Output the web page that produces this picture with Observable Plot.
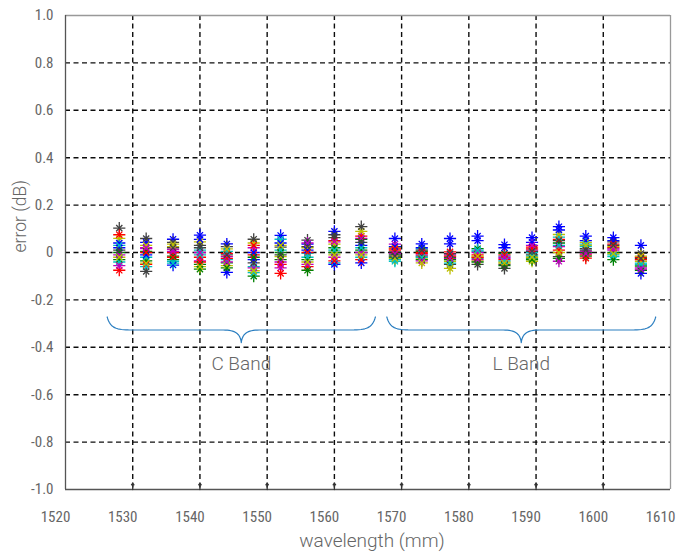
<!DOCTYPE html>
<html>
<head>
<meta charset="utf-8">
<script src="https://cdn.jsdelivr.net/npm/d3@7"></script>
<script src="https://cdn.jsdelivr.net/npm/@observablehq/plot@0.6"></script>
<style>
  html, body { margin: 0; padding: 0; background: #fff; }
</style>
</head>
<body>
<div id="chart"></div>
<script>
// ---- data ----
const wavelengths = [1528, 1532, 1536, 1540, 1544, 1548, 1552, 1556, 1560, 1564,
                     1569, 1573, 1577.2, 1581.3, 1585.3, 1589.4, 1593.4, 1597.4, 1601.5, 1605.6];
const seriesColors = ["#0000ff", "#008000", "#ff0000", "#00bfbf", "#bf00bf", "#bfbf00", "#404040"];

const sB1 = [0.02, 0.043, 0.056, 0.073, 0.036, -0.03, 0.072, 0.035, 0.089, 0.03, 0.059, 0.036, 0.059, 0.069, 0.033, 0.063, 0.109, 0.069, 0.063, 0.03];
const sG1 = [-0.03, -0.035, -0.03, -0.07, -0.044, -0.1, -0.03, -0.03, 0.0, 0.01, -0.01, 0.005, -0.02, 0.016, -0.004, -0.024, 0.04, 0.0, 0.0, -0.057];
const sR1 = [-0.075, -0.05, 0.0, -0.02, -0.004, -0.01, -0.05, -0.06, 0.05, 0.069, 0.01, -0.005, 0.003, -0.01, -0.03, 0.023, 0.055, -0.01, 0.02, -0.02];
const sC1 = [-0.04, -0.02, -0.037, 0.01, -0.03, -0.06, 0.056, -0.004, -0.044, -0.02, -0.03, 0.015, -0.005, 0.005, -0.015, 0.0, 0.065, 0.025, -0.017, -0.045];
const sM1 = [-0.055, 0.016, 0.013, -0.035, -0.017, 0.02, -0.065, -0.05, -0.02, 0.0, 0.035, -0.01, -0.01, 0.0, -0.025, 0.01, 0.025, 0.005, 0.01, -0.065];
const sY1 = [0.06, 0.03, 0.025, 0.045, -0.055, 0.04, -0.017, 0.02, 0.035, 0.089, 0.02, -0.024, -0.037, -0.035, -0.04, -0.037, 0.076, 0.043, 0.025, -0.037];
const sK1 = [0.103, 0.059, 0.043, 0.03, 0.025, 0.056, 0.023, 0.052, 0.063, 0.109, 0.003, -0.015, -0.05, -0.024, -0.05, -0.01, -0.017, 0.016, 0.045, -0.004];
const sB2 = [0.04, -0.01, -0.053, 0.055, -0.084, 0.0, 0.04, 0.01, -0.05, -0.044, 0.025, 0.02, 0.036, 0.05, 0.02, 0.043, 0.095, 0.05, 0.05, -0.088];
const sG2 = [0.0, 0.005, -0.015, -0.05, -0.065, -0.02, 0.0, -0.075, 0.02, 0.055, -0.02, -0.03, -0.03, -0.04, -0.055, -0.03, -0.025, -0.015, -0.03, -0.075];
const sR2 = [0.075, 0.0, -0.02, -0.04, -0.025, 0.03, -0.088, 0.0, -0.035, -0.03, 0.015, 0.0, -0.015, -0.02, -0.01, 0.015, 0.01, -0.024, 0.035, -0.03];
const sC2 = [0.03, -0.06, -0.045, -0.01, 0.005, -0.085, 0.01, -0.02, 0.01, 0.02, -0.037, -0.02, -0.045, 0.01, -0.035, -0.015, 0.03, 0.035, -0.01, -0.05];
const sM2 = [-0.01, 0.02, 0.005, 0.0, -0.04, -0.065, -0.04, 0.04, 0.045, 0.06, -0.005, -0.035, -0.025, -0.03, -0.02, 0.03, -0.037, -0.005, 0.015, -0.07];
const sY2 = [-0.02, -0.045, 0.035, -0.06, 0.015, -0.077, 0.03, -0.04, -0.01, -0.01, -0.025, -0.044, -0.067, -0.015, -0.045, -0.02, 0.0, 0.03, -0.005, -0.015];
const sK2 = [0.01, -0.08, 0.02, 0.02, -0.01, -0.044, -0.01, 0.025, 0.075, 0.043, -0.015, 0.01, -0.005, -0.05, -0.067, 0.005, 0.05, 0.01, 0.03, -0.025];

const seriesList = [sB1, sG1, sR1, sC1, sM1, sY1, sK1, sB2, sG2, sR2, sC2, sM2, sY2, sK2];

const xTicks = [1520, 1530, 1540, 1550, 1560, 1570, 1580, 1590, 1600, 1610];
const yTicks = [-1.0, -0.8, -0.6, -0.4, -0.2, 0, 0.2, 0.4, 0.6, 0.8, 1.0];

const bandNames = ["C Band", "L Band"];
const bandStart = [1526.2, 1567.8];
const bandEnd = [1566.1, 1607.8];
const braceTop = -0.272, braceBar = -0.327, braceTip = -0.38;
const bandLabelY = -0.468;

// ---- layout ----
const W = 678, H = 556;
const mL = 65, mR = 8, mT = 15, mB = 67;
const xDom = [1520, 1610], yDom = [-1, 1];
const nmPerPx = (xDom[1] - xDom[0]) / (W - mL - mR);

const points = seriesList.flatMap((vals, si) =>
  vals.map((v, i) => ({wl: wavelengths[i], err: v, color: seriesColors[si % seriesColors.length]})));

function cubic(p0, p1, p2, p3, n) {
  const out = [];
  for (let k = 0; k <= n; k++) {
    const t = k / n, u = 1 - t;
    out.push([
      u*u*u*p0[0] + 3*u*u*t*p1[0] + 3*u*t*t*p2[0] + t*t*t*p3[0],
      u*u*u*p0[1] + 3*u*u*t*p1[1] + 3*u*t*t*p2[1] + t*t*t*p3[1]
    ]);
  }
  return out;
}
function brace(x0, x1) {
  const xm = (x0 + x1) / 2, p = nmPerPx;
  const half = (sgn, xe) => {
    const a = cubic([xe, braceTop], [xe + sgn*3*p, braceTop + 0.85*(braceBar - braceTop)],
                    [xe + sgn*9*p, braceBar], [xe + sgn*24*p, braceBar], 16);
    const b = cubic([xm - sgn*18*p, braceBar], [xm - sgn*6*p, braceBar],
                    [xm - sgn*1*p, braceBar + 0.3*(braceTip - braceBar)], [xm, braceTip], 16);
    return a.concat(b);
  };
  return half(1, x0).concat(half(-1, x1).reverse());
}
const bracePts = bandNames.flatMap((name, i) =>
  brace(bandStart[i], bandEnd[i]).map(([x, y]) => ({band: name, x, y})));

const tickFont = "'Roboto Condensed', 'Liberation Sans Narrow', 'DejaVu Sans Condensed', sans-serif";
const labelFont = "Roboto, 'Open Sans', sans-serif";
const textGray = "#666";

const chart = Plot.plot({
  width: W,
  height: H,
  marginLeft: mL,
  marginRight: mR,
  marginTop: mT,
  marginBottom: mB,
  x: {domain: xDom, axis: null},
  y: {domain: yDom, axis: null},
  color: {type: "identity"},
  style: {fontFamily: tickFont, background: "#fff"},
  marks: [
    Plot.gridX(xTicks.slice(1, -1), {stroke: "#000", strokeOpacity: 0.95, strokeWidth: 1.4, strokeDasharray: "5,3.5"}),
    Plot.gridY(yTicks.slice(1, -1), {stroke: "#000", strokeOpacity: 0.95, strokeWidth: 1.4, strokeDasharray: "5,3.5"}),
    Plot.ruleY([yDom[1]], {stroke: "#999", strokeWidth: 1.3}),
    Plot.ruleX([xDom[1]], {stroke: "#999", strokeWidth: 1.3}),
    Plot.ruleY([yDom[0]], {stroke: "#555", strokeWidth: 1.3}),
    Plot.ruleX([xDom[0]], {stroke: "#555", strokeWidth: 1.3}),
    Plot.vector(xTicks.slice(1, -1), {x: d => d, y: yDom[0], length: 6, rotate: 0, anchor: "start", stroke: "#333", strokeWidth: 1.3}),
    Plot.axisY(yTicks, {tickSize: 0, tickPadding: 12, tickFormat: d => d === 0 ? "0" : d.toFixed(1),
      fontSize: 15, fill: textGray, fontFamily: tickFont, label: null}),
    Plot.axisX(xTicks, {tickSize: 0, tickPadding: 22, tickFormat: d => String(d), dx: -10,
      fontSize: 15, fill: textGray, fontFamily: tickFont, label: null}),
    Plot.text(["error (dB)"], {frameAnchor: "left", rotate: -90, dx: -45, fontSize: 17.5, fill: textGray, fontFamily: labelFont, fontWeight: 300}),
    Plot.text(["wavelength (mm)"], {frameAnchor: "bottom", dy: 57, dx: 4, fontSize: 19, fill: textGray, fontFamily: labelFont, fontWeight: 300}),
    Plot.line(bracePts, {x: "x", y: "y", z: "band", stroke: "#2a7ec0", strokeWidth: 1.2}),
    Plot.text(bandNames, {x: (d, i) => (bandStart[i] + bandEnd[i]) / 2, y: bandLabelY, text: d => d,
      fontSize: 19, fill: textGray, fontFamily: labelFont, fontWeight: 300}),
    Plot.dot(points, {x: "wl", y: "err", symbol: "plus", r: 4, stroke: "color", strokeWidth: 1.3}),
    Plot.dot(points, {x: "wl", y: "err", symbol: "times", r: 2.9, stroke: "color", strokeWidth: 1.3})
  ]
});
document.getElementById("chart").appendChild(chart);
</script>
</body>
</html>
